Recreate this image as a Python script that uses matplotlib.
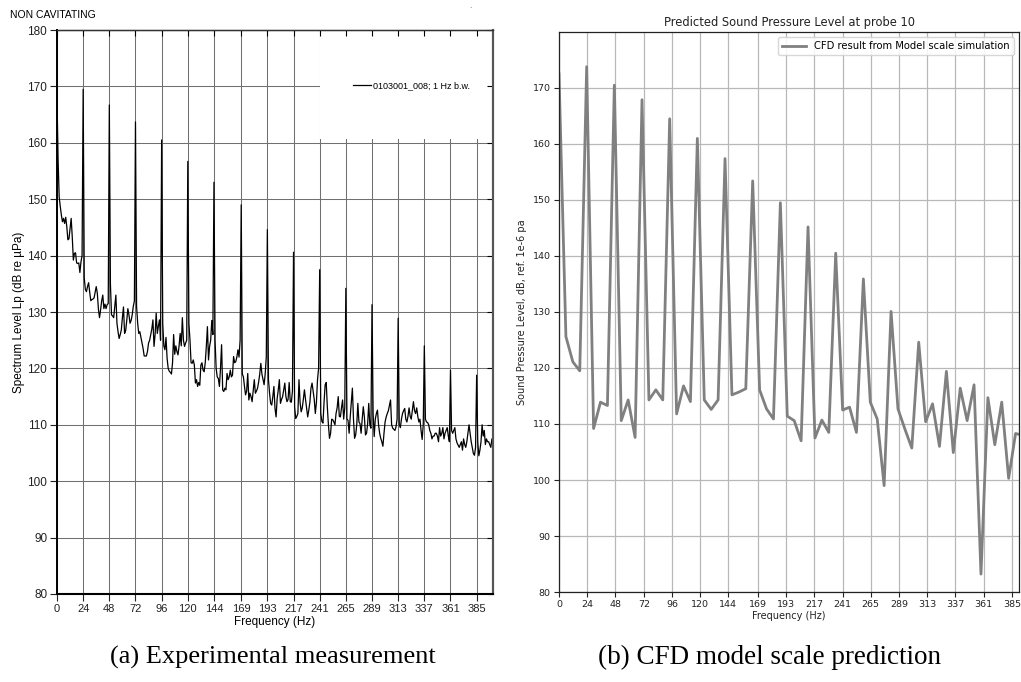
import numpy as np
import matplotlib.pyplot as plt
import matplotlib.patches as patches

# (a) measured spectrum, 1 Hz bins, 0..400 Hz (one row per blade-rate band)
level_exp = [
    167.9, 157.0, 150.4, 148.7, 147.2, 146.0, 146.6, 145.7, 146.8, 145.1, 142.8, 143.0,
    144.8, 146.6, 143.3, 139.2, 140.4, 140.5, 138.7, 138.6, 138.7, 137.0, 138.9, 140.0,
    169.5, 136.0, 134.0, 133.6, 134.5, 135.2, 133.5, 132.0, 132.2, 132.3, 132.5, 133.5,
    134.5, 133.3, 130.5, 129.0, 130.4, 132.0, 133.0, 130.6, 131.4, 130.6, 131.3, 131.5,
    166.7, 135.0, 129.5, 129.3, 129.0, 131.0, 133.0, 128.0, 126.5, 125.3, 126.0, 126.8,
    129.0, 130.9, 126.2, 126.7, 128.5, 130.6, 129.5, 128.0, 128.5, 129.5, 131.0, 132.0,
    163.7, 131.0, 128.0, 126.2, 126.5, 125.5, 124.5, 123.5, 122.2, 122.2, 122.2, 123.0,
    124.5, 125.0, 126.0, 127.0, 128.6, 123.9, 126.0, 129.8, 126.2, 127.5, 128.6, 125.0,
    160.5, 128.0, 124.0, 123.3, 125.5, 121.8, 120.0, 119.5, 119.3, 119.0, 121.0, 126.0,
    122.5, 124.0, 123.0, 122.4, 124.0, 126.2, 124.0, 129.0, 125.0, 123.9, 124.5, 125.0,
    156.7, 128.0, 125.0, 121.0, 120.9, 121.5, 120.6, 117.4, 118.0, 116.8, 117.5, 117.0,
    120.6, 121.0, 119.7, 119.4, 121.0, 123.9, 127.4, 121.5, 123.9, 125.0, 128.5, 126.0,
    153.0, 125.0, 120.0, 118.5, 118.2, 116.8, 120.0, 124.2, 116.2, 115.9, 116.5, 116.2,
    119.1, 118.0, 118.5, 119.7, 118.5, 118.8, 122.1, 121.0, 121.2, 122.0, 123.3, 122.0, 125.0,
    149.0, 119.0, 118.5, 116.8, 115.3, 116.0, 119.1, 114.4, 115.6, 115.0, 114.1, 116.0,
    118.0, 115.6, 116.0, 116.5, 117.6, 119.0, 120.9, 119.0, 118.0, 117.1, 119.0, 122.0,
    144.6, 118.0, 115.6, 113.8, 113.5, 115.0, 116.8, 112.9, 111.4, 114.7, 116.2, 118.0,
    113.8, 114.5, 115.0, 116.2, 117.4, 115.0, 114.1, 114.5, 117.5, 114.1, 114.0, 116.0,
    140.6, 113.2, 111.1, 111.5, 112.0, 118.0, 114.0, 112.3, 113.0, 114.5, 116.2, 114.5,
    113.0, 111.4, 112.6, 114.0, 116.5, 117.4, 116.0, 114.5, 112.0, 114.0, 118.0, 120.0,
    137.5, 112.0, 110.6, 110.3, 114.0, 117.1, 117.5, 113.2, 110.0, 107.6, 108.5, 111.0,
    110.9, 110.5, 110.0, 112.0, 113.0, 115.0, 111.5, 111.4, 113.0, 114.4, 111.0, 113.0,
    134.2, 111.0, 110.8, 108.5, 111.4, 114.0, 116.5, 111.0, 107.6, 108.2, 110.0, 113.8,
    110.5, 110.2, 108.5, 111.0, 113.2, 111.4, 108.2, 108.5, 110.2, 113.8, 110.0, 109.4,
    131.3, 112.0, 107.9, 111.0, 112.0, 112.6, 110.0, 108.5, 107.6, 107.0, 106.2, 108.5,
    110.5, 111.4, 112.0, 112.5, 113.5, 114.4, 110.0, 109.4, 109.2, 109.0, 109.6, 111.0,
    128.9, 110.0, 109.5, 111.0, 112.0, 112.5, 112.9, 111.0, 110.5, 111.5, 113.0, 111.5,
    111.0, 112.5, 114.1, 112.5, 112.0, 113.0, 111.5, 110.5, 111.0, 109.0, 107.4, 110.0,
    124.0, 111.0, 110.5, 110.4, 110.0, 109.0, 108.5, 107.5, 108.0, 108.0, 108.5, 108.5,
    108.0, 107.0, 109.5, 108.0, 108.5, 109.5, 107.5, 108.5, 109.0, 109.5, 108.0, 107.0,
    119.7, 109.0, 108.5, 109.0, 109.5, 107.5, 106.8, 106.4, 106.0, 106.5, 107.0, 105.5,
    107.5, 106.5, 106.0, 107.0, 108.5, 110.0, 108.5, 107.0, 106.0, 104.9, 104.6, 106.0,
    118.8, 107.0, 104.5, 105.5, 107.0, 110.0, 108.0, 109.0, 106.5, 107.5, 107.0, 107.0,
    106.5, 106.0, 107.5, 106.5,
]
freq_exp = np.arange(len(level_exp))  # 1 Hz bandwidth

# (b) CFD prediction, ~5.88 Hz resolution
df_cfd = 5.88
level_cfd = [
    172.5, 125.6, 121.1, 119.5, 173.8, 109.2, 113.9, 113.3,
    170.5, 110.6, 114.3, 107.6, 167.9, 114.3, 116.1, 114.3,
    164.5, 111.8, 116.8, 114.0, 161.0, 114.3, 112.6, 114.3,
    157.4, 115.2, 115.7, 116.3, 153.4, 116.1, 112.7, 110.9,
    149.5, 111.4, 110.6, 107.0, 145.2, 107.5, 110.7, 108.5,
    140.5, 112.5, 113.0, 108.5, 135.9, 113.9, 110.9, 99.0,
    130.1, 112.7, 109.1, 105.7, 124.6, 110.4, 113.6, 106.0,
    119.4, 104.9, 116.4, 110.6, 117.0, 83.2, 114.7, 106.3,
    113.9, 100.3, 108.3, 108.0,
]
freq_cfd = df_cfd * np.arange(len(level_cfd))

xtick_labels = ['0', '24', '48', '72', '96', '120', '144', '169', '193',
                '217', '241', '265', '289', '313', '337', '361', '385']
xtick_pos = [int(s) for s in xtick_labels]
yticks_exp = list(range(80, 181, 10))
yticks_cfd = list(range(80, 171, 10))

W, H = 1021, 682
fig = plt.figure(figsize=(W / 100, H / 100), dpi=100)

# ---------------- left: experimental ----------------
arial = 'Liberation Sans'
ax = fig.add_axes([57 / W, 88 / H, 436 / W, 564 / H])
ax.set_axisbelow(True)
ax.plot(freq_exp, level_exp, color='black', lw=0.9, zorder=2,
        label='0103001_008; 1 Hz b.w.')
ax.set_xlim(0, 400)
ax.set_ylim(80, 180)
ax.set_xticks(xtick_pos)
ax.set_xticklabels(xtick_labels, family=arial, fontsize=8)
ax.set_yticks(yticks_exp)
ax.set_yticklabels([str(v) for v in yticks_exp], family=arial, fontsize=8.5)
ax.tick_params(direction='out', length=5, width=0.8, pad=2, colors='#222222')
ax.grid(True, color='#707070', lw=0.75)
for side, lw, col in [('left', 1.4, 'black'), ('bottom', 1.5, 'black'),
                      ('top', 0.9, '#333333'), ('right', 1.5, '#555555')]:
    ax.spines[side].set_linewidth(lw)
    ax.spines[side].set_color(col)
    ax.spines[side].set_zorder(5)
# blank legend area that hides the grid
ax.add_patch(patches.Rectangle((0.604, 0.806), 0.394, 0.192, transform=ax.transAxes,
                               facecolor='white', edgecolor='none', zorder=1))
ax.legend(loc='center left', bbox_to_anchor=(0.662, 0.901), frameon=False,
          handlelength=2.0, handletextpad=0.2, borderpad=0.3,
          prop={'family': arial, 'size': 6.5})
top = ax.secondary_xaxis('top')
top.set_xticks(xtick_pos)
top.tick_params(direction='in', length=4, labeltop=False)
top.spines['top'].set_linewidth(0.9)
top.set_zorder(3)
right = ax.secondary_yaxis('right')
right.set_yticks(yticks_exp)
right.tick_params(direction='in', length=4, labelright=False)
right.spines['right'].set_linewidth(1.5)
right.spines['right'].set_color('#555555')
right.set_zorder(3)
ax.set_xlabel('Frequency (Hz)', family=arial, fontsize=8.5, labelpad=2)
ax.set_ylabel('Spectrum Level Lp (dB re µPa)', family=arial, fontsize=8.5, labelpad=2)
fig.text(10 / W, 1 - 15 / H, 'NON CAVITATING', family=arial, fontsize=7.5,
         va='center', ha='left')
fig.text(469 / W, 1 - 6 / H, '.', family=arial, fontsize=6, va='center', color='#555555')

# ---------------- right: CFD ----------------
bx = fig.add_axes([559 / W, 90 / H, 460 / W, 560 / H])
bx.set_axisbelow(True)
bx.plot(freq_cfd, level_cfd, color='#808080', lw=2.0,
        label='CFD result from Model scale simulation')
bx.set_xlim(0, 391)
bx.set_ylim(80, 180)
bx.set_xticks(xtick_pos)
bx.set_xticklabels(xtick_labels)
bx.set_yticks(yticks_cfd)
bx.tick_params(labelsize=6.8, length=3.5, width=0.8, pad=2.5, colors='#222222')
bx.grid(True, color='#b8b8b8', lw=0.9)
for s in bx.spines.values():
    s.set_linewidth(0.9)
    s.set_color('#222222')
bx.legend(loc='upper right', fontsize=7.2, framealpha=0.85, edgecolor='#d0d0d0',
          handlelength=2.4)
bx.set_title('Predicted Sound Pressure Level at probe 10', fontsize=8.3, pad=4,
             color='#222222')
bx.set_xlabel('Frequency (Hz)', fontsize=7, labelpad=1, color='#222222')
bx.set_ylabel('Sound Pressure Level, dB, ref. 1e-6 pa', fontsize=7, labelpad=4,
              color='#222222')

# captions
serif = 'Liberation Serif'
fig.text(273 / W, 1 - 657 / H, '(a) Experimental measurement', family=serif,
         fontsize=19, ha='center', va='center')
fig.text(769 / W, 1 - 657 / H, '(b) CFD model scale prediction', family=serif,
         fontsize=19.5, ha='center', va='center')

fig.savefig('out.png', dpi=100)
